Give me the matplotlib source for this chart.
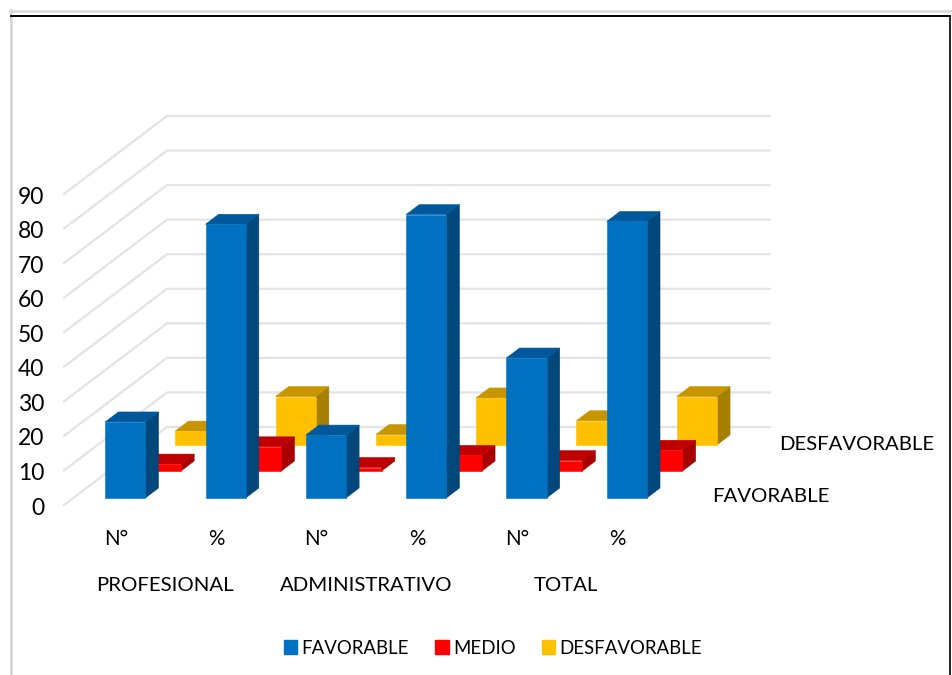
import matplotlib
matplotlib.use('Agg')
import matplotlib.pyplot as plt
from matplotlib.patches import Patch, Polygon

plt.rcParams['font.family'] = ['Lato', 'DejaVu Sans']

sub_labels = ['N°', '%', 'N°', '%', 'N°', '%']
groups = ['PROFESIONAL', 'ADMINISTRATIVO', 'TOTAL']
y_ticks = [0, 10, 20, 30, 40, 50, 60, 70, 80, 90]
series_names = ['FAVORABLE', 'MEDIO', 'DESFAVORABLE']

favorable = [22, 79.2, 18.2, 82, 40.5, 80]
medio = [2, 7, 1, 4.5, 3, 6]
desfavorable = [4, 14, 3, 13.6, 7, 14]

# front, top, side
colors_fav = ['#0070C0', '#00589C', '#00477C']
colors_med = ['#FF0000', '#C00000', '#A80000']
colors_des = ['#FFC000', '#C79500', '#A67F00']

# oblique projection, 1 x unit = 100.3 px, 1 y unit = 3.456 px
X_PX = 100.3
Y_PX = 3.456
DX = 103 / X_PX      # x shift for full depth
DY = 78 / Y_PX       # y shift for full depth
BAR_W = 0.40
BAR_D = 0.128        # depth of one bar
Z_START = [0.09, 0.436, 0.77]
TXT = '#000000'


def proj(x, y, z):
    return (x + DX * z, y + DY * z)


def draw_bar(ax, x, val, z, cols, order):
    x0, x1 = x - BAR_W / 2, x + BAR_W / 2
    z1 = z + BAR_D
    front = [proj(x0, 0, z), proj(x1, 0, z), proj(x1, val, z), proj(x0, val, z)]
    top = [proj(x0, val, z), proj(x1, val, z), proj(x1, val, z1), proj(x0, val, z1)]
    side = [proj(x1, 0, z), proj(x1, 0, z1), proj(x1, val, z1), proj(x1, val, z)]
    for pts, c in zip([side, top, front], [cols[2], cols[1], cols[0]]):
        ax.add_patch(Polygon(pts, closed=True, fc=c, ec=c, lw=0.4, zorder=order))


fig = plt.figure(figsize=(9.52, 6.75), dpi=100)
ax = fig.add_axes([0, 0, 1, 1])
ax.set_xlim(-116 / X_PX, (952 - 116) / X_PX)
ax.set_ylim((505 - 675) / Y_PX, 505 / Y_PX)
ax.axis('off')

# gridlines on floor side and back wall
x_left = -52 / X_PX
x_right = 654 / X_PX
for t in y_ticks:
    p1 = (x_left + DX, t + DY)
    ax.plot([x_left, p1[0], x_right], [t, p1[1], p1[1]], color='#E4E4E4', lw=1.6, zorder=1)
    ax.text(-72 / X_PX, t - 0.9, str(t), ha='right', va='center', fontsize=16.5, color=TXT)

# back series first so the front ones cover them
order = 2
for vals, cols, z in [(desfavorable, colors_des, Z_START[2]),
                      (medio, colors_med, Z_START[1]),
                      (favorable, colors_fav, Z_START[0])]:
    for i, v in enumerate(vals):
        draw_bar(ax, i, v, z, cols, order)
        order += 1

for i, lab in enumerate(sub_labels):
    ax.text(i, -9.8, lab, ha='center', va='center', fontsize=14.8, color=TXT)
for i, lab in enumerate(groups):
    ax.text(i * 2 + 0.49, -23.4, lab, ha='center', va='center', fontsize=14.7, color=TXT)

# depth axis labels
ax.text(663 / X_PX, 17.6, 'DESFAVORABLE', ha='left', va='center', fontsize=14.6, color=TXT)
ax.text(596 / X_PX, 2.6, 'FAVORABLE', ha='left', va='center', fontsize=14.7, color=TXT)

handles = [Patch(fc=c[0], ec=c[0]) for c in [colors_fav, colors_med, colors_des]]
ax.legend(handles, series_names, ncol=3, loc='center', bbox_to_anchor=(493 / 952, 1 - 648 / 675),
          frameon=False, fontsize=13.4, handlelength=0.72, handleheight=0.72,
          handletextpad=0.22, columnspacing=1.42, labelcolor=TXT)

# frame of the screenshot
fig.add_artist(plt.Line2D([10.5 / 952, 10.5 / 952], [0, 1 - 10 / 675], color='#D4D4D4', lw=1.8))
fig.add_artist(plt.Line2D([10 / 952, 1], [1 - 10.5 / 675, 1 - 10.5 / 675], color='#D9D9D9', lw=1.8))
fig.add_artist(plt.Line2D([11 / 952, 950 / 952], [1 - 16 / 675, 1 - 16 / 675], color='black', lw=1.4))
fig.add_artist(plt.Line2D([950 / 952, 950 / 952], [0, 1 - 16 / 675], color='black', lw=1.2))

fig.savefig('out.png', dpi=100)
